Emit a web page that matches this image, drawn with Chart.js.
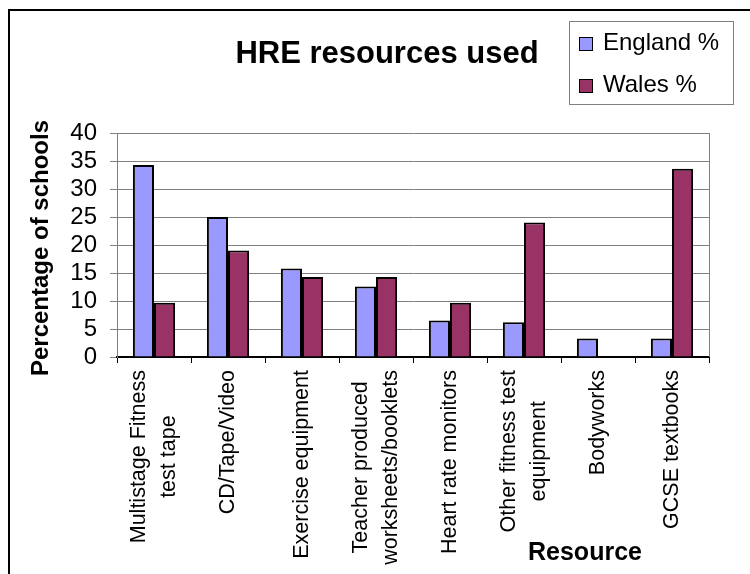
<!DOCTYPE html>
<html>
<head>
<meta charset="utf-8">
<script src="https://cdn.jsdelivr.net/npm/chart.js@4.4.0/dist/chart.umd.min.js"></script>
<style>
  body { margin: 0; background: #fff; }
  canvas { display: block; }
</style>
</head>
<body>
<canvas id="hreChart" width="750" height="574"></canvas>
<script>
// Chart data
const categories = [
  ['Multistage Fitness', 'test tape'],
  'CD/Tape/Video',
  'Exercise equipment',
  ['Teacher produced', 'worksheets/booklets'],
  'Heart rate monitors',
  ['Other fitness test', 'equipment'],
  'Bodyworks',
  'GCSE textbooks'
];
const englandValues = [34.3, 25.0, 15.8, 12.6, 6.5, 6.2, 3.3, 3.3];
const walesValues = [9.7, 19.0, 14.3, 14.3, 9.7, 24.0, 0, 33.6];
const seriesNames = ['England %', 'Wales %'];
const seriesColors = ['#9999FF', '#993366'];
const yMax = 40;
const yStep = 5;

const chartTitle = 'HRE resources used';
const yTitle = 'Percentage of schools';
const xTitle = 'Resource';

const FONT = '"Liberation Sans", Arial, sans-serif';

// Draws frame, title, boxed legend, axis titles and the centred multi-line category labels
const decorPlugin = {
  id: 'decor',
  beforeDraw(chart) {
    const ctx = chart.ctx;
    ctx.save();
    ctx.fillStyle = '#fff';
    ctx.fillRect(0, 0, chart.width, chart.height);
    ctx.strokeStyle = '#000';
    ctx.lineWidth = 2;
    ctx.strokeRect(9, 10, 900, 900);
    ctx.restore();
  },
  afterDraw(chart) {
    const ctx = chart.ctx;
    const area = chart.chartArea;
    const xScale = chart.scales.x;
    ctx.save();

    // plot area right border
    ctx.strokeStyle = '#808080';
    ctx.lineWidth = 1;
    ctx.beginPath();
    ctx.moveTo(Math.round(area.right) + 0.5, area.top);
    ctx.lineTo(Math.round(area.right) + 0.5, area.bottom);
    ctx.stroke();

    // title
    ctx.fillStyle = '#000';
    ctx.font = 'bold 31px ' + FONT;
    ctx.textAlign = 'center';
    ctx.textBaseline = 'alphabetic';
    ctx.fillText(chartTitle, 387, 63);

    // legend box
    ctx.strokeStyle = '#808080';
    ctx.strokeRect(569.5, 21.5, 164, 83);
    ctx.font = '24px ' + FONT;
    ctx.textAlign = 'left';
    chart.data.datasets.forEach((ds, i) => {
      const top = 37 + i * 42;
      ctx.fillStyle = ds.backgroundColor;
      ctx.fillRect(579, top, 13, 13);
      ctx.strokeStyle = '#000';
      ctx.strokeRect(579.5, top + 0.5, 13, 13);
      ctx.fillStyle = '#000';
      ctx.fillText(ds.label, 603, top + 13);
    });

    // y axis title
    ctx.save();
    ctx.translate(41, 248);
    ctx.rotate(-Math.PI / 2);
    ctx.font = 'bold 24px ' + FONT;
    ctx.textAlign = 'center';
    ctx.textBaseline = 'middle';
    ctx.fillText(yTitle, 0, 0);
    ctx.restore();

    // category labels, rotated, lines centred on each other
    ctx.font = '21.5px ' + FONT;
    ctx.textBaseline = 'middle';
    ctx.textAlign = 'center';
    const lineHeight = 30;
    categories.forEach((label, i) => {
      const lines = Array.isArray(label) ? label : [label];
      const maxW = Math.max(...lines.map(l => ctx.measureText(l).width));
      const x = xScale.getPixelForValue(i);
      ctx.save();
      ctx.translate(x, 370);
      ctx.rotate(-Math.PI / 2);
      lines.forEach((line, j) => {
        ctx.fillText(line, -maxW / 2, (j - (lines.length - 1) / 2) * lineHeight);
      });
      ctx.restore();
    });

    // x axis title
    ctx.font = 'bold 25px ' + FONT;
    ctx.textAlign = 'left';
    ctx.textBaseline = 'alphabetic';
    ctx.fillText(xTitle, 528, 560);

    ctx.restore();
  }
};

new Chart(document.getElementById('hreChart'), {
  type: 'bar',
  data: {
    labels: categories,
    datasets: [
      {
        label: seriesNames[0],
        data: englandValues,
        backgroundColor: seriesColors[0],
        borderColor: '#000',
        borderWidth: 2
      },
      {
        label: seriesNames[1],
        data: walesValues,
        backgroundColor: seriesColors[1],
        borderColor: '#000',
        borderWidth: 2
      }
    ]
  },
  options: {
    responsive: false,
    animation: false,
    layout: { padding: { top: 133, left: 0, right: 41, bottom: 0 } },
    datasets: {
      bar: { categoryPercentage: 0.57, barPercentage: 1.0 }
    },
    plugins: {
      legend: { display: false },
      title: { display: false },
      tooltip: { enabled: false }
    },
    scales: {
      x: {
        afterFit(scale) { scale.height = 217; },
        ticks: { display: false },
        grid: {
          offset: true,
          drawOnChartArea: false,
          drawTicks: true,
          tickLength: 6,
          color: '#000',
          lineWidth: 1
        },
        border: { color: '#000', width: 2 }
      },
      y: {
        min: 0,
        max: yMax,
        afterFit(scale) { scale.width = 117; },
        ticks: {
          stepSize: yStep,
          autoSkip: false,
          padding: 13,
          color: '#000',
          font: { family: FONT, size: 24 }
        },
        afterBuildTicks(scale) {
          const ticks = [];
          for (let v = 0; v <= yMax; v += yStep) ticks.push({ value: v });
          scale.ticks = ticks;
        },
        grid: {
          color: '#808080',
          lineWidth: 1,
          tickLength: 7
        },
        border: { color: '#808080', width: 1 }
      }
    }
  },
  plugins: [decorPlugin]
});
</script>
</body>
</html>
